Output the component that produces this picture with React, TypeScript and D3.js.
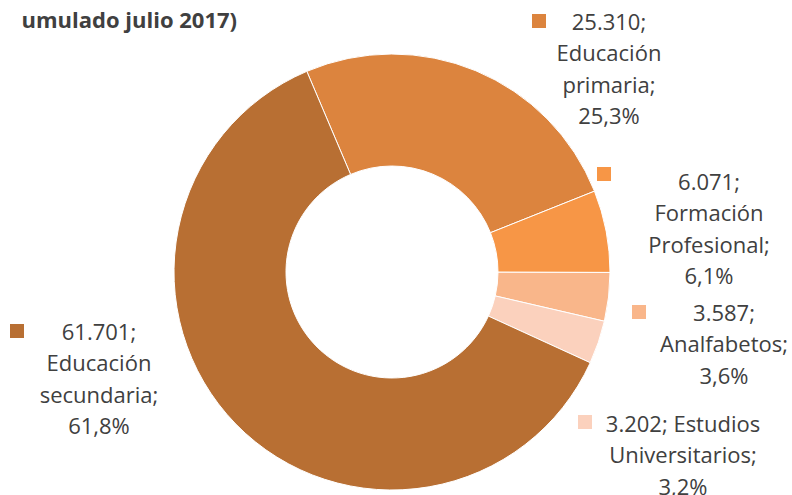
import React from "react";
import * as d3 from "d3";

const categories = [
  "Educación primaria",
  "Formación Profesional",
  "Analfabetos",
  "Estudios Universitarios",
  "Educación secundaria",
];
const values = [25310, 6071, 3587, 3202, 61701];
const colors = ["#DC843E", "#F79646", "#F9B68A", "#FBD1BD", "#B86F33"];
// label text lines ("{v}" and "{p}" substituted)
const labelLines = [
  ["{v};", "Educación", "primaria;", "{p}"],
  ["{v};", "Formación", "Profesional;", "{p}"],
  ["{v};", "Analfabetos;", "{p}"],
  ["{v}; Estudios", "Universitarios;", "{p}"],
  ["{v};", "Educación", "secundaria;", "{p}"],
];
const titleText = "umulado julio 2017)";

// layout (not data)
const W = 792, H = 495;
const cx = 392, cy = 272, rOuter = 218, rInner = 106;
const startDeg = -23;
const labelPos = [
  { x: 609, y: 30, sx: 532, sy: 14 },
  { x: 709, y: 190, sx: 597, sy: 167 },
  { x: 724, y: 321, sx: 632, sy: 305 },
  { x: 683, y: 432, sx: 578, sy: 415 },
  { x: 99, y: 340, sx: 10, sy: 324 },
];
const lineH = 31.3;

const fmtV = (v: number) => d3.format(",")(v).replace(/,/g, ".");
const fmtP = (p: number) => d3.format(".1f")(p * 100).replace(".", ",") + "%";

export default function App() {
  const total = d3.sum(values);
  const start = (startDeg * Math.PI) / 180;
  const pie = d3
    .pie<number>()
    .sort(null)
    .value((d) => d)
    .startAngle(start)
    .endAngle(start + 2 * Math.PI);
  const arcs = pie(values);
  const arc = d3.arc<d3.PieArcDatum<number>>().innerRadius(rInner).outerRadius(rOuter);
  const font = "'Open Sans', sans-serif";
  return (
    <div style={{ position: "fixed", left: 0, top: 0, width: W, height: H, background: "#fff" }}>
      <svg width={W} height={H} style={{ display: "block" }}>
        <rect width={W} height={H} fill="#fff" />
        <text x={237} y={28} textAnchor="end" fontFamily={font} fontWeight="bold" fontSize={22} fill="#404040">
          {titleText}
        </text>
        <g transform={`translate(${cx},${cy})`}>
          {arcs.map((a, i) => (
            <path key={i} d={arc(a) || ""} fill={colors[i]} stroke="#fff" strokeWidth={1} />
          ))}
        </g>
        {categories.map((c, i) => {
          const lp = labelPos[i];
          const v = fmtV(values[i]);
          const p = fmtP(values[i] / total);
          return (
            <g key={c}>
              <rect x={lp.sx} y={lp.sy} width={14} height={14} fill={colors[i]} />
              <text fontFamily={font} fontSize={22} fill="#404040" textAnchor="middle">
                {labelLines[i].map((l, j) => (
                  <tspan key={j} x={lp.x} y={lp.y + j * lineH}>
                    {l.replace("{v}", v).replace("{p}", p)}
                  </tspan>
                ))}
              </text>
            </g>
          );
        })}
      </svg>
    </div>
  );
}
